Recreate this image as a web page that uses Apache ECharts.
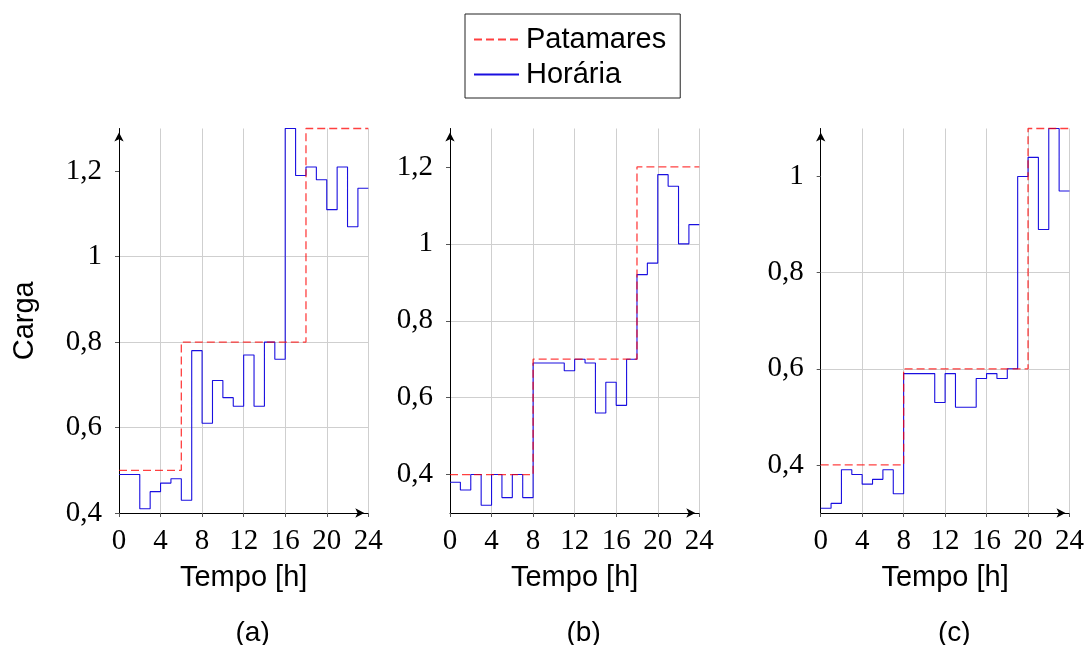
<!DOCTYPE html>
<html>
<head>
<meta charset="utf-8">
<script src="https://cdn.jsdelivr.net/npm/echarts@6/dist/echarts.min.js"></script>
<style>
  html, body { margin: 0; padding: 0; background: #ffffff; }
  #chart { width: 1087px; height: 645px; }
</style>
</head>
<body>
<div id="chart"></div>
<script>
// Hourly load (Horária) and block load levels (Patamares), one value per hour 0..23
const horariaA = [0.49, 0.49, 0.41, 0.45, 0.47, 0.48, 0.43, 0.78, 0.61, 0.71, 0.67, 0.65,
                  0.77, 0.65, 0.80, 0.76, 1.30, 1.19, 1.21, 1.18, 1.11, 1.21, 1.07, 1.16];
const patamaresA = [0.5, 0.5, 0.5, 0.5, 0.5, 0.5, 0.8, 0.8, 0.8, 0.8, 0.8, 0.8,
                    0.8, 0.8, 0.8, 0.8, 0.8, 0.8, 1.3, 1.3, 1.3, 1.3, 1.3, 1.3];

const horariaB = [0.38, 0.36, 0.40, 0.32, 0.40, 0.34, 0.40, 0.34, 0.69, 0.69, 0.69, 0.67,
                  0.70, 0.69, 0.56, 0.64, 0.58, 0.70, 0.92, 0.95, 1.18, 1.15, 1.00, 1.05];
const patamaresB = [0.4, 0.4, 0.4, 0.4, 0.4, 0.4, 0.4, 0.4, 0.7, 0.7, 0.7, 0.7,
                    0.7, 0.7, 0.7, 0.7, 0.7, 0.7, 1.2, 1.2, 1.2, 1.2, 1.2, 1.2];

const horariaC = [0.31, 0.32, 0.39, 0.38, 0.36, 0.37, 0.39, 0.34, 0.59, 0.59, 0.59, 0.53,
                  0.59, 0.52, 0.52, 0.58, 0.59, 0.58, 0.60, 1.00, 1.04, 0.89, 1.10, 0.97];
const patamaresC = [0.4, 0.4, 0.4, 0.4, 0.4, 0.4, 0.4, 0.4, 0.6, 0.6, 0.6, 0.6,
                    0.6, 0.6, 0.6, 0.6, 0.6, 0.6, 0.6, 0.6, 1.1, 1.1, 1.1, 1.1];

// Axis ranges and tick values
const xRange = [0, 24];
const xInterval = 4;
const yRangeA = [0.4, 1.3];
const yRangeB = [0.3, 1.3];
const yRangeC = [0.3, 1.1];
const yTicksA = [0.4, 0.6, 0.8, 1.0, 1.2];
const yTicksB = [0.4, 0.6, 0.8, 1.0, 1.2];
const yTicksC = [0.4, 0.6, 0.8, 1.0];

const captions = ['(a)', '(b)', '(c)'];
const seriesNames = ['Patamares', 'Horária'];

// Hour-indexed values -> points for a step line holding each value over [h, h+1]
function stepPoints(values) {
  const pts = values.map((v, h) => [h, v]);
  pts.push([values.length, values[values.length - 1]]);
  return pts;
}

const SERIF = '"Liberation Serif", "DejaVu Serif", serif';
const SANS = '"Liberation Sans", Arial, sans-serif';
const FS = 29;

const panels = [
  { left: 119,   yRange: yRangeA, yTicks: yTicksA, hor: horariaA, pat: patamaresA, yName: 'Carga' },
  { left: 450,   yRange: yRangeB, yTicks: yTicksB, hor: horariaB, pat: patamaresB, yName: '' },
  { left: 820.7, yRange: yRangeC, yTicks: yTicksC, hor: horariaC, pat: patamaresC, yName: '' }
];
const plotW = 249.3, plotTop = 128.5, plotH = 384.5;

// decimal comma tick labels, "1" instead of "1,0"
function fmt(v) {
  return String(+(+v).toFixed(1)).replace('.', ',');
}

const grid = [], xAxis = [], yAxis = [], series = [], graphic = [];
panels.forEach((p, i) => {
  grid.push({ left: p.left, top: plotTop, width: plotW, height: plotH, containLabel: false });
  xAxis.push({
    type: 'value', gridIndex: i, min: xRange[0], max: xRange[1], interval: xInterval,
    name: 'Tempo [h]', nameLocation: 'middle', nameGap: 50,
    nameTextStyle: { fontFamily: SANS, fontSize: FS, color: '#000' },
    axisLine: { show: true, onZero: false, lineStyle: { color: '#000', width: 1 },
                symbol: ['none', 'arrow'], symbolSize: [7, 9], symbolOffset: [0, -4] },
    axisTick: { show: true, length: 4, lineStyle: { color: '#555' } },
    axisLabel: { fontFamily: SERIF, fontSize: FS, color: '#000', margin: 14,
                 showMinLabel: true, showMaxLabel: true, hideOverlap: false },
    splitLine: { show: true, lineStyle: { color: '#cfcfcf', width: 1 } }
  });
  yAxis.push({
    type: 'value', gridIndex: i, min: p.yRange[0], max: p.yRange[1],
    name: p.yName, nameLocation: 'middle', nameGap: 80,
    nameTextStyle: { fontFamily: SANS, fontSize: FS, color: '#000' },
    axisLine: { show: true, onZero: false, lineStyle: { color: '#000', width: 1 },
                symbol: ['none', 'arrow'], symbolSize: [7, 9], symbolOffset: [0, -4] },
    axisTick: { show: true, length: 4, customValues: p.yTicks, lineStyle: { color: '#555' } },
    axisLabel: { fontFamily: SERIF, fontSize: FS, color: '#000', margin: 17,
                 customValues: p.yTicks, formatter: fmt, hideOverlap: false },
    splitLine: { show: true, showMinLine: false, showMaxLine: false,
                 lineStyle: { color: '#cfcfcf', width: 1 } }
  });
  series.push({
    name: seriesNames[1], type: 'line', xAxisIndex: i, yAxisIndex: i,
    step: 'end', showSymbol: false, symbol: 'none', clip: false, animation: false,
    lineStyle: { color: '#1a0fe0', width: 1.1 }, itemStyle: { color: '#1a0fe0' },
    data: stepPoints(p.hor)
  });
  series.push({
    name: seriesNames[0], type: 'line', xAxisIndex: i, yAxisIndex: i,
    step: 'end', showSymbol: false, symbol: 'none', clip: false, animation: false,
    lineStyle: { color: '#ff0000', width: 1.3, type: [8, 4], opacity: 0.75 },
    itemStyle: { color: '#ff4040' },
    data: stepPoints(p.pat)
  });
  // subfigure caption, centred on the panel including its tick labels
  graphic.push({
    type: 'text', x: p.left + plotW / 2 + 9, y: 619,
    style: { text: captions[i], fontFamily: SANS, fontSize: 28, fill: '#000', align: 'center' }
  });
});

const chart = echarts.init(document.getElementById('chart'), null, { renderer: 'canvas' });
chart.setOption({
  animation: false,
  backgroundColor: '#ffffff',
  legend: {
    data: seriesNames, orient: 'vertical', left: 465, top: 14,
    padding: [11, 14, 9, 8], itemGap: 6, itemWidth: 45, itemHeight: 14,
    borderColor: '#222', borderWidth: 1, borderRadius: 0,
    itemStyle: { color: 'rgba(0,0,0,0)', borderWidth: 0, opacity: 0 },
    textStyle: { fontFamily: SANS, fontSize: FS, color: '#000', padding: [0, 0, 0, 2] },
    selectedMode: false
  },
  grid: grid,
  xAxis: xAxis,
  yAxis: yAxis,
  series: series,
  graphic: graphic
});
</script>
</body>
</html>
